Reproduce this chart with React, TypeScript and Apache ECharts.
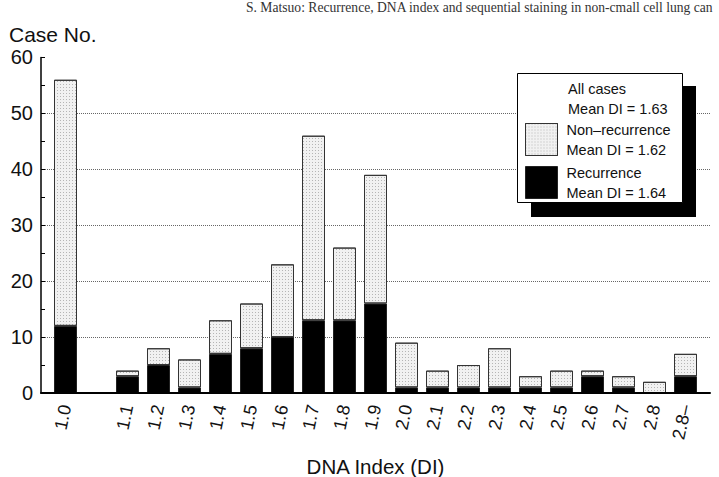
import React, { useEffect, useRef } from "react";
import * as echarts from "echarts";

const categories = ["1.0", "", "1.1", "1.2", "1.3", "1.4", "1.5", "1.6", "1.7", "1.8", "1.9", "2.0", "2.1", "2.2", "2.3", "2.4", "2.5", "2.6", "2.7", "2.8", "2.8–"];
const recurrence = [12, null, 3, 5, 1, 7, 8, 10, 13, 13, 16, 1, 1, 1, 1, 1, 1, 3, 1, 0, 3];
const nonRecurrence = [44, null, 1, 3, 5, 6, 8, 13, 33, 13, 23, 8, 3, 4, 7, 2, 3, 1, 2, 2, 4];
const seriesNames = ["Non–recurrence", "Recurrence"];
const meanDI: Record<string, string> = { "All cases": "1.63", "Non–recurrence": "1.62", "Recurrence": "1.64" };
const yTicks = [0, 60, 10];
const header = "S. Matsuo: Recurrence, DNA index and sequential staining in non-cmall cell lung can";

const SANS = "'Liberation Sans', Arial, Helvetica, sans-serif";
const SERIF = "'Liberation Serif', 'Times New Roman', serif";

export default function App() {
  const ref = useRef<HTMLDivElement>(null);
  useEffect(() => {
    if (!ref.current) return;
    const chart = echarts.init(ref.current, null, { renderer: "svg" });
    const option: any = {
      animation: false,
      backgroundColor: "#ffffff",
      textStyle: { fontFamily: SANS },
      title: [
        {
          text: "Case No.",
          left: 9,
          top: 24,
          padding: 0,
          textStyle: { fontFamily: SANS, fontSize: 21, fontWeight: "normal", color: "#111" },
        },
      ],
      grid: [
        { left: 50, width: 651, top: 57.4, bottom: 84, containLabel: false, outerBoundsMode: "none" },
        { left: 41, right: 9, top: 57.4, bottom: 84, containLabel: false, outerBoundsMode: "none" },
      ],
      xAxis: [
        {
          type: "category",
          gridIndex: 0,
          data: categories,
          axisLine: { show: false },
          axisTick: { show: false },
          splitLine: { show: false },
          axisLabel: {
            rotate: 78,
            margin: 12,
            fontSize: 18,
            color: "#111",
            fontFamily: SANS,
            interval: 0,
            padding: [22, 0, 0, 0],
          },
        },
        {
          type: "value",
          gridIndex: 1,
          min: 0,
          max: 1,
          z: 3,
          axisLine: { show: true, lineStyle: { color: "#000", width: 2 } },
          axisTick: { show: false },
          axisLabel: { show: false },
          splitLine: { show: false },
          name: "DNA Index (DI)",
          nameLocation: "middle",
          nameGap: 63,
          nameTextStyle: { fontSize: 20.5, color: "#111", fontFamily: SANS },
        },
      ],
      yAxis: [
        { type: "value", gridIndex: 0, min: yTicks[0], max: yTicks[1], show: false },
        {
          type: "value",
          gridIndex: 1,
          min: yTicks[0],
          max: yTicks[1],
          interval: yTicks[2],
          axisLine: { show: true, lineStyle: { color: "#000", width: 1.5 } },
          axisTick: { show: true, inside: true, length: 4, lineStyle: { color: "#000", width: 1 } },
          minorTick: { show: true, splitNumber: 2, length: 4, lineStyle: { color: "#000", width: 1 } },
          axisLabel: { fontSize: 20, margin: 8, color: "#111", fontFamily: SANS },
          splitLine: {
            show: true,
            showMinLine: false,
            showMaxLine: false,
            lineStyle: { type: "dotted", color: "#666", width: 1 },
          },
        },
      ],
      legend: {
        orient: "vertical",
        left: 525,
        top: 122,
        padding: 0,
        itemWidth: 32,
        itemHeight: 32,
        itemGap: 8,
        icon: "rect",
        z: 10,
        data: seriesNames,
        selectedMode: false,
        itemStyle: { borderWidth: 1 },
        formatter: (name: string) => `{t|${name}}\n{t|Mean DI = ${meanDI[name]}}`,
        textStyle: {
          padding: [0, 0, 0, 4],
          rich: { t: { fontSize: 14.5, lineHeight: 20, color: "#111", fontFamily: SANS } },
        },
      },
      graphic: [
        {
          type: "text",
          left: 246,
          top: 0,
          z: 10,
          style: { text: header, font: `13.6px ${SERIF}`, fill: "#333" },
        },
        { type: "rect", z: 5, shape: { x: 531, y: 86, width: 165, height: 131 }, style: { fill: "#000" } },
        {
          type: "rect",
          z: 6,
          shape: { x: 517.5, y: 73.5, width: 165, height: 129 },
          style: { fill: "#fff", stroke: "#000", lineWidth: 1 },
        },
        {
          type: "text",
          z: 10,
          x: 568,
          y: 89,
          style: { text: "All cases", font: `14.5px ${SANS}`, fill: "#111", textVerticalAlign: "middle" },
        },
        {
          type: "text",
          z: 10,
          x: 568,
          y: 109,
          style: { text: `Mean DI = ${meanDI["All cases"]}`, font: `14.5px ${SANS}`, fill: "#111", textVerticalAlign: "middle" },
        },
      ],
      series: [
        {
          name: seriesNames[1],
          type: "bar",
          xAxisIndex: 0,
          yAxisIndex: 0,
          stack: "total",
          barWidth: 23,
          data: recurrence,
          itemStyle: { color: "#000", borderColor: "#222", borderWidth: 1 },
        },
        {
          name: seriesNames[0],
          type: "bar",
          xAxisIndex: 0,
          yAxisIndex: 0,
          stack: "total",
          barWidth: 23,
          data: nonRecurrence,
          itemStyle: {
            color: "#f1f1f1",
            borderColor: "#333",
            borderWidth: 1,
            decal: {
              symbol: "rect",
              symbolSize: 1,
              color: "rgba(90,90,90,0.4)",
              dashArrayX: [1, 2],
              dashArrayY: [1, 2],
              rotation: 0,
            },
          },
        },
      ],
    };
    chart.setOption(option);
    return () => chart.dispose();
  }, []);
  return <div ref={ref} style={{ width: 719, height: 477, position: "absolute", left: 0, top: 0 }} />;
}
